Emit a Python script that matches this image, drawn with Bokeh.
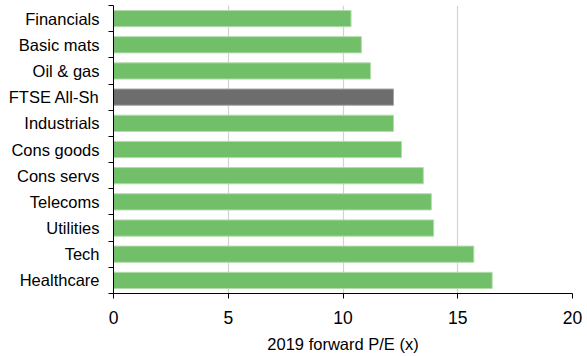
from bokeh.plotting import figure
from bokeh.models import Range1d, FixedTicker, ColumnDataSource
from bokeh.embed import file_html
from bokeh.resources import INLINE

# Sectors listed top to bottom, with 2019 forward P/E
sectors = ["Financials", "Basic mats", "Oil & gas", "FTSE All-Sh", "Industrials",
           "Cons goods", "Cons servs", "Telecoms", "Utilities", "Tech", "Healthcare"]
pe_2019 = [10.35, 10.8, 11.2, 12.2, 12.2, 12.55, 13.5, 13.85, 13.95, 15.7, 16.5]
x_ticks = [0, 5, 10, 15, 20]

GREEN = "#72bf69"
GREEN_EDGE = "#b3dcab"
GREY = "#6d6d6d"
GREY_EDGE = "#a6a6a6"
FONT = "Liberation Sans"

n = len(sectors)
# first sector sits at the top of the chart
ypos = [n - 1 - i for i in range(n)]
fills = [GREY if s.startswith("FTSE") else GREEN for s in sectors]
edges = [GREY_EDGE if s.startswith("FTSE") else GREEN_EDGE for s in sectors]

src = ColumnDataSource(dict(y=ypos, pe=pe_2019, fill=fills, edge=edges, name=sectors))

p = figure(width=587, height=356, output_backend="svg", toolbar_location=None,
           x_range=Range1d(0, 20), y_range=Range1d(-0.5, n - 0.5),
           frame_width=459, frame_height=288,
           min_border_left=113, min_border_right=15, min_border_top=5, min_border_bottom=63)
p.outline_line_color = None
p.background_fill_color = "white"
p.border_fill_color = "white"

p.hbar(y="y", left=0, right="pe", height=0.62, fill_color="fill", line_color="edge",
       line_width=1, source=src)

# x axis
p.xaxis.ticker = FixedTicker(ticks=x_ticks)
p.xaxis.axis_label = "2019 forward P/E (x)"
p.xaxis.axis_label_text_font = FONT
p.xaxis.axis_label_text_font_style = "normal"
p.xaxis.axis_label_text_font_size = "16.5px"
p.xaxis.axis_label_text_color = "black"
p.xaxis.axis_label_standoff = 8
p.xaxis.major_label_text_font = FONT
p.xaxis.major_label_text_font_size = "17.5px"
p.xaxis.major_label_text_color = "black"
p.xaxis.major_label_standoff = 12
p.xaxis.major_tick_in = 0
p.xaxis.major_tick_out = 5
p.xaxis.minor_tick_line_color = None
p.xaxis.axis_line_color = "black"
p.xaxis.major_tick_line_color = "black"

# y axis: names at bar centres, ticks at category boundaries
p.yaxis.ticker = FixedTicker(ticks=ypos, minor_ticks=[i - 0.5 for i in range(n + 1)])
p.yaxis.major_label_overrides = {y: s for y, s in zip(ypos, sectors)}
p.yaxis.major_label_text_font = FONT
p.yaxis.major_label_text_font_size = "16.5px"
p.yaxis.major_label_text_color = "black"
p.yaxis.major_label_standoff = 9
p.yaxis.major_tick_in = 0
p.yaxis.major_tick_out = 0
p.yaxis.minor_tick_in = 0
p.yaxis.minor_tick_out = 5
p.yaxis.minor_tick_line_color = "black"
p.yaxis.axis_line_color = "black"

p.xgrid.ticker = FixedTicker(ticks=x_ticks)
p.xgrid.grid_line_color = "#d2d2d2"
p.xgrid.grid_line_width = 1.2
p.ygrid.grid_line_color = None

open("out.html", "w").write(file_html(p, INLINE))
